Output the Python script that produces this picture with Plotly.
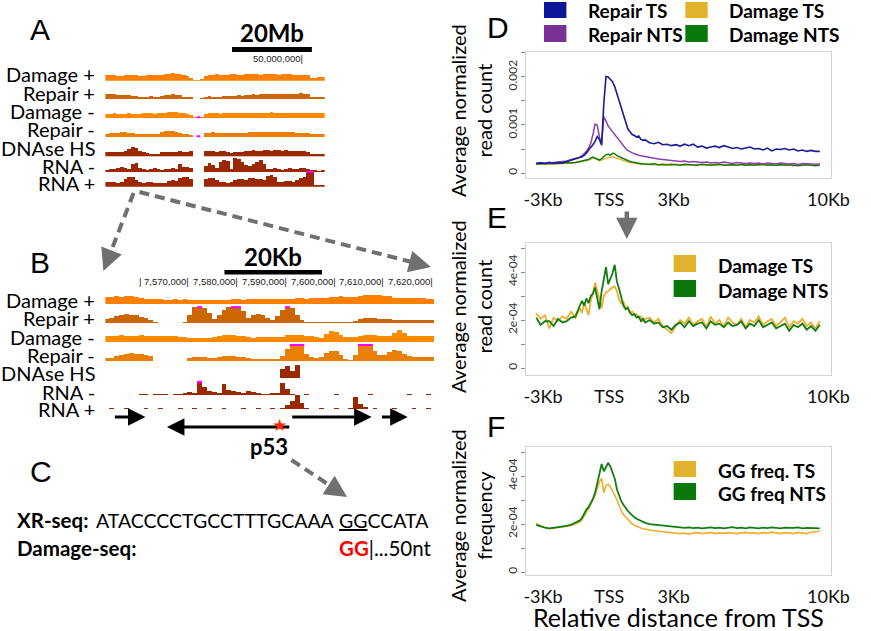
import numpy as np
import plotly.graph_objects as go

W, H = 871, 631


def px(x):
    return x / W


def py(y):
    return 1 - y / H


# ---------------------------------------------------------------- data
# Panels D-F : metagene profiles around TSS (values in units of 1e-4)
dist_kb = np.round(np.concatenate([np.arange(-3.0, -0.99, 0.2),
                                   np.arange(-0.9, 2.01, 0.1),
                                   np.arange(2.2, 10.01, 0.2)]), 2)
SCALE = 1e-4

repair_ts_D = [2.0, 2.1, 2.0, 2.2, 2.0, 2.2, 2.1, 2.4, 2.6, 2.9, 3.2,
               3.4, 3.7, 4.1, 4.8, 5.3, 5.9, 6.6, 7.6, 7.0, 5.8, 14.5, 20.1, 20.0, 19.6, 19.0,
               18.0, 16.5, 15.0, 13.3, 11.8, 10.2, 9.2, 8.6, 8.0, 7.8, 7.5, 7.7, 7.0, 6.8, 6.9,
               6.3, 6.1, 6.4, 5.9, 6.0, 5.7, 5.9, 5.6, 6.0, 5.7, 6.0, 5.4, 5.6, 5.2, 5.4, 5.6,
               5.3, 5.7, 5.4, 5.1, 5.3, 5.0, 5.2, 5.4, 5.0, 5.1, 4.8, 5.2, 4.6, 5.0, 4.9, 5.1,
               4.8, 5.0, 4.6, 4.8, 4.5, 4.7, 4.5, 4.5]
repair_nts_D = [2.0, 2.1, 2.0, 2.1, 2.1, 2.2, 2.3, 2.5, 2.8, 3.0, 3.3,
                3.6, 4.0, 4.5, 5.2, 6.2, 8.0, 10.2, 10.0, 7.5, 6.2, 11.7, 10.8, 9.8, 9.2, 8.6,
                8.0, 7.6, 7.0, 6.4, 5.8, 5.1, 4.7, 4.4, 4.2, 4.0, 3.8, 3.7, 3.6, 3.5, 3.4,
                3.2, 3.0, 2.9, 2.8, 2.7, 2.6, 2.5, 2.4, 2.5, 2.3, 2.4, 2.3, 2.2, 2.3, 2.1, 2.2,
                2.1, 2.3, 2.1, 2.0, 2.2, 2.1, 2.0, 2.1, 2.0, 2.1, 1.9, 2.1, 2.0, 1.9, 2.1, 2.0,
                1.9, 2.0, 1.8, 2.0, 1.9, 1.9, 1.8, 1.9]
damage_ts_D = [1.9, 2.0, 1.9, 1.9, 2.0, 1.9, 2.0, 2.1, 2.0, 2.2, 2.3,
               2.4, 2.6, 2.5, 2.7, 2.9, 3.1, 3.0, 2.8, 2.6, 2.7, 2.9, 3.0, 3.2, 3.3, 3.4,
               3.2, 3.1, 3.0, 2.8, 2.6, 2.4, 2.3, 2.2, 2.1, 2.0, 2.0, 1.9, 1.8, 1.9, 1.8,
               1.7, 1.8, 1.6, 1.7, 1.7, 1.6, 1.8, 1.7, 1.6, 1.7, 1.6, 1.8, 1.7, 1.6, 1.7, 1.6,
               1.7, 1.8, 1.6, 1.7, 1.6, 1.7, 1.7, 1.6, 1.8, 1.6, 1.7, 1.6, 1.7, 1.6, 1.8, 1.7,
               1.6, 1.5, 1.7, 1.6, 1.7, 1.6, 1.6, 1.7]
damage_nts_D = [1.9, 1.9, 2.0, 1.9, 2.0, 2.0, 2.1, 2.1, 2.2, 2.2, 2.4,
                2.5, 2.6, 2.7, 2.8, 3.1, 3.3, 3.1, 2.9, 2.7, 3.0, 3.4, 3.8, 3.9, 3.7, 4.1,
                4.0, 3.6, 3.4, 3.1, 2.9, 2.7, 2.5, 2.4, 2.3, 2.2, 2.1, 2.1, 2.0, 1.9, 1.9,
                1.8, 1.9, 1.7, 1.8, 1.7, 1.8, 1.7, 1.6, 1.8, 1.7, 1.7, 1.6, 1.8, 1.7, 1.6, 1.7,
                1.8, 1.6, 1.7, 1.7, 1.6, 1.8, 1.6, 1.7, 1.6, 1.7, 1.8, 1.6, 1.7, 1.6, 1.7, 1.6,
                1.7, 1.6, 1.5, 1.6, 1.7, 1.6, 1.5, 1.6]

damage_ts_E = [2.28, 2.05, 2.2, 1.65, 2.1, 1.95, 2.15, 2.05, 2.35, 2.1, 2.5,
               2.3, 2.75, 2.5, 2.2, 2.8, 3.1, 3.55, 3.25, 2.9, 2.5, 3.0, 3.15, 3.2, 3.3, 3.35,
               3.4, 3.2, 2.85, 2.7, 2.75, 2.5, 2.55, 2.3, 2.35, 2.2, 2.25, 2.1, 2.15, 1.95, 2.05,
               2.1, 1.9, 2.05, 1.75, 1.6, 1.45, 1.75, 2.0, 1.85, 2.1, 1.8, 1.95, 2.05, 1.7, 2.15,
               1.85, 2.0, 1.75, 2.1, 1.9, 1.8, 2.05, 1.7, 2.0, 1.9, 2.15, 1.8, 1.95, 2.05, 1.75,
               1.9, 2.1, 1.7, 1.95, 1.85, 2.05, 1.75, 1.9, 1.65, 1.95]
damage_nts_E = [2.1, 1.8, 1.95, 1.95, 1.75, 2.05, 1.9, 1.95, 2.1, 2.15, 2.6,
                2.8, 2.6, 2.9, 2.7, 3.0, 3.1, 3.35, 2.9, 2.45, 3.2, 3.8, 4.2, 3.5, 3.75, 3.95,
                4.3, 3.6, 3.3, 3.0, 2.6, 2.45, 2.5, 2.3, 2.2, 2.25, 2.1, 2.15, 1.95, 2.05, 1.9,
                2.0, 1.85, 1.9, 1.7, 1.75, 1.6, 1.8, 1.9, 1.7, 1.95, 1.75, 1.85, 1.9, 1.65, 1.95,
                1.8, 1.85, 1.7, 1.9, 1.75, 1.8, 1.95, 1.65, 1.85, 1.75, 2.0, 1.7, 1.8, 1.9, 1.65,
                1.75, 1.85, 1.55, 1.8, 1.7, 1.85, 1.6, 1.75, 1.55, 1.8]

gg_ts_F = [2.03, 1.92, 1.85, 1.8, 1.82, 1.85, 1.87, 1.9, 1.94, 2.0, 2.08,
           2.18, 2.35, 2.5, 2.62, 2.78, 3.0, 3.2, 3.5, 3.75, 3.9, 3.3, 3.6, 3.65, 3.55, 3.4,
           3.2, 3.0, 2.75, 2.55, 2.4, 2.3, 2.2, 2.1, 2.0, 1.95, 1.9, 1.86, 1.83, 1.8, 1.78,
           1.75, 1.72, 1.7, 1.68, 1.66, 1.65, 1.63, 1.6, 1.62, 1.58, 1.62, 1.64, 1.6, 1.62, 1.65,
           1.6, 1.63, 1.61, 1.64, 1.62, 1.6, 1.63, 1.65, 1.61, 1.63, 1.6, 1.64, 1.62, 1.66, 1.63,
           1.6, 1.64, 1.62, 1.6, 1.65, 1.63, 1.6, 1.66, 1.68, 1.7]
gg_nts_F = [1.96, 1.9, 1.85, 1.82, 1.84, 1.86, 1.88, 1.92, 1.97, 2.05, 2.15,
            2.25, 2.45, 2.6, 2.7, 2.85, 3.05, 3.3, 3.7, 4.15, 4.5, 4.2, 4.4, 4.55, 4.4, 4.15,
            3.9, 3.45, 3.2, 2.95, 2.8, 2.65, 2.55, 2.45, 2.35, 2.28, 2.22, 2.18, 2.12, 2.1, 2.05,
            2.0, 1.98, 1.95, 1.93, 1.9, 1.88, 1.86, 1.85, 1.84, 1.86, 1.83, 1.85, 1.82, 1.84, 1.86,
            1.83, 1.85, 1.82, 1.84, 1.87, 1.83, 1.85, 1.82, 1.86, 1.84, 1.82, 1.85, 1.83, 1.86, 1.84,
            1.82, 1.85, 1.83, 1.84, 1.86, 1.82, 1.84, 1.83, 1.85, 1.82]

x_tick_pos = [-2.69, 0.35, 3.30, 10.40]
x_tick_text = ["-3Kb", "TSS", "3Kb", "10Kb"]

# Panel A : chromosome-wide tracks (bin signal, 60 bins)
A_BIN_MB = 0.915
damage_plus_A = [5.3, 5.5, 5.3, 5.0, 5.2, 5.5, 5.7, 5.5, 5.3, 5.0, 5.2, 5.5, 5.3, 5.6, 5.8, 6.0,
                 6.5, 7.0, 7.3, 7.0, 6.8, 6.2, 5.0, 3.0, 1.0, 0.7, 1.5,
                 5.0, 5.5, 6.0, 6.3, 6.0, 5.8, 6.0,
                 6.3, 6.5, 6.2, 6.0, 6.5, 6.8, 6.5, 6.3, 6.0, 6.5, 7.0, 6.8, 6.5, 6.2, 6.5, 6.8, 6.3, 6.0,
                 6.2, 6.0, 5.8, 5.5, 2.5, 2.3, 3.8, 4.2]
repair_plus_A = [5.3, 5.0, 5.2, 4.8, 4.5, 4.2, 4.0,
                 3.5, 3.0, 2.8, 2.5, 2.7, 3.0, 2.8, 2.5, 3.0,
                 4.0, 4.8, 5.3, 4.8, 4.0, 2.8, 2.5, 2.0, 0.8, 0.3, 1.0,
                 2.5, 3.0, 2.8, 2.5, 2.7, 3.0, 3.3, 3.5, 3.8, 4.0, 3.7, 4.2, 4.5,
                 5.0, 4.8, 5.2, 5.0, 5.3, 5.5, 5.2, 5.0, 5.3, 5.5, 5.2, 5.0,
                 5.5, 6.0, 5.8, 5.5, 2.5, 2.2, 2.0, 2.3]
damage_minus_A = [4.5, 4.8, 5.0, 4.7, 4.5, 4.8, 5.0, 4.8, 4.5, 4.7, 5.0, 5.2, 5.0, 4.8, 5.0, 5.2,
                  5.8, 6.5, 6.8, 6.3, 5.8, 5.2, 4.5, 3.0, 1.0, 0.5, 1.2,
                  4.5, 5.0, 5.2, 5.0, 4.8, 5.0, 5.3, 5.5, 5.2, 5.0, 5.3, 5.8, 5.5, 5.2, 5.0, 5.3,
                  5.5, 5.8, 6.0, 5.7, 5.3, 5.5, 5.8, 5.5, 5.2, 5.0, 5.3, 5.5, 5.2, 5.0, 5.3, 5.0, 5.2]
repair_minus_A = [3.5, 4.0, 4.2, 4.5, 5.0, 5.3, 4.8, 4.0,
                  3.2, 3.0, 3.3, 3.0, 3.2, 3.5, 3.8,
                  5.0, 6.0, 6.8, 6.5, 5.5, 4.5, 3.5, 3.0, 2.2, 0.8, 0.5, 0.8,
                  4.0, 4.5, 5.0, 4.8, 4.5, 4.3, 4.5, 4.2, 4.0, 4.3, 4.5, 4.8, 5.0,
                  5.5, 5.8, 5.5, 5.3, 5.6, 5.8, 5.5, 5.2, 5.5, 5.3, 5.0, 5.2,
                  4.5, 4.3, 4.0, 4.2, 3.5, 3.2, 3.0, 3.3]
dnase_A = [5.0, 5.5, 5.3, 5.8, 5.5, 6.0, 8.5, 10.5, 9.0,
           6.0, 5.0, 4.5, 3.5, 3.0, 3.5,
           5.0, 5.5, 5.2, 5.8, 5.5, 6.0, 5.5, 5.8, 6.5, 0, 0, 0,
           6.2, 6.5, 6.0, 5.8, 6.3, 6.0, 5.5, 4.5, 5.0, 5.5, 5.8, 6.0, 6.3,
           7.0, 6.5, 6.8, 7.2, 7.0, 6.5, 7.0, 7.3, 6.8, 7.0, 6.5, 6.8,
           6.5, 6.0, 6.3, 5.8, 3.5, 3.2, 3.0, 3.3]
rna_minus_A = [2.5, 3.0, 3.5, 4.5, 5.0, 4.0, 3.5, 8.5, 9.0, 4.0,
               3.0, 2.5, 3.5, 4.0, 3.0, 2.5, 3.5, 3.0, 4.0, 3.5,
               8.5, 5.0, 5.5, 4.0, 0, 0, 0,
               6.5, 9.0, 7.5, 4.0, 10.0, 12.5, 11.0, 3.0, 14.0, 13.0, 10.0,
               7.0, 6.5, 8.0, 10.5, 12.0, 8.0,
               3.5, 3.0, 4.0, 3.5, 2.5, 3.0, 4.0, 3.5, 3.0, 4.5, 4.0, 3.5,
               2.0, 2.5, 1.5, 2.0]
rna_plus_A = [4.5, 5.0, 4.5, 4.0, 5.0, 8.0, 10.0, 9.5, 7.0,
              4.5, 4.0, 5.0, 4.5, 3.5, 4.0, 3.5, 4.0, 5.5, 7.0,
              6.0, 8.5, 9.5, 10.0, 8.0, 0, 0, 0,
              8.0, 8.5, 9.0, 7.0, 5.0, 4.5, 3.5, 5.0,
              6.5, 7.5, 8.0, 7.0, 8.5, 9.0, 7.5, 8.0, 6.5, 11.0, 12.0, 10.0,
              5.0, 4.5, 5.5, 6.0, 5.0, 7.0, 9.0, 10.0, 16.0, 16.0, 2.0, 1.5, 2.0]

# Panel B : TP53 locus tracks (1 kb bins, first bin centred at 7,553 kb)
B_FIRST_KB = 7553
damage_plus_B = [7.5, 7.7, 8.0, 7.5, 7.8, 8.0, 7.3,
                 6.0, 5.5, 5.0, 4.8, 5.0, 4.5, 4.7, 5.0, 4.5, 4.8,
                 4.5, 4.3, 4.0, 4.2, 4.5, 4.0, 4.3, 4.5, 4.2,
                 4.8, 5.0, 4.7, 5.0, 5.2, 4.8, 5.0, 5.3, 5.0, 4.8, 5.0, 5.2, 5.5,
                 5.8, 6.0, 5.7, 6.2, 6.0, 6.3, 6.5, 7.0, 7.5, 7.8, 7.5, 7.2, 7.0,
                 8.5, 9.0, 9.3, 9.0, 8.8, 8.5, 8.0, 6.5, 6.2, 6.0, 5.8, 6.0, 6.2, 5.8, 5.5, 5.7]
repair_plus_B = [4.5, 5.0, 7.5, 8.5, 9.0, 8.7, 8.0, 6.5, 5.0, 3.5,
                 0.8, 0.5, 0.6, 0.5, 0.7, 0.5, 1.0,
                 8.0, 16.0, 17.0, 15.0, 10.0, 4.5, 8.0, 13.0, 16.0, 17.0, 17.0, 12.0,
                 5.5, 8.0, 9.5, 8.5, 5.5, 3.5, 7.0,
                 13.0, 17.0, 15.0, 8.0, 3.0, 1.5,
                 1.0, 1.2, 0.8, 1.0, 1.5, 1.2, 1.0, 1.3, 1.5, 2.5,
                 4.5, 5.0, 4.8, 5.0, 4.7, 4.5, 4.0, 3.5, 3.3, 3.5, 3.2, 3.0, 3.3, 3.5, 3.2, 3.0]
damage_minus_B = [6.0, 6.3, 6.5, 6.8, 6.2, 6.0, 6.5, 7.0, 6.5, 6.0, 5.8, 6.2, 6.5, 6.3, 6.0, 5.5, 5.0,
                  4.5, 4.0, 4.2, 4.0, 4.5, 5.0, 6.5, 7.0, 7.5, 7.0, 6.5, 6.0,
                  5.0, 4.5, 4.8, 5.0, 5.5, 5.0, 4.8, 5.5,
                  7.0, 7.5, 7.2, 7.0, 6.5, 6.0, 5.0, 4.5,
                  8.5, 11.0, 10.5, 7.0, 5.5, 5.0, 5.5,
                  6.5, 7.0, 7.5, 7.0, 6.5, 6.0, 6.5, 9.5, 12.0, 9.0,
                  6.5, 6.0, 6.3, 6.0, 5.8, 6.0]
repair_minus_B = [3.0, 3.5, 5.5, 6.5, 7.5, 8.0, 7.5, 7.0, 6.5, 5.0,
                  0.3, 0.3, 0.2, 0.3, 0.4, 0.3, 0.5,
                  3.5, 4.0, 4.5, 4.0, 3.5, 3.0, 4.5, 5.0, 5.5, 5.0, 4.5, 4.0,
                  3.0, 2.5, 2.3, 2.5, 2.0, 1.8, 2.5,
                  5.0, 12.0, 17.0, 17.0, 17.0, 7.0, 4.0, 3.5, 4.5,
                  8.0, 10.5, 10.0, 6.0, 2.0, 1.5, 6.0,
                  17.0, 17.0, 17.0, 10.0, 6.0, 6.0, 9.0, 11.0, 10.0, 7.0,
                  5.0, 4.5, 4.0, 4.5, 4.2, 4.0]
dnase_B = [0, 1, 1, 1, 0, 1, 1, 1, 1, 0,
           1, 1, 1, 1, 1, 0, 1, 1, 1, 1,
           1, 0, 1, 1, 1, 1, 0, 1, 1, 1,
           1, 1, 1, 0, 1, 1.5, 12, 15, 10, 16,
           1, 1, 1, 0, 1, 1, 1, 1, 0, 1,
           1, 1, 1, 1, 0, 1, 1, 1, 1, 0,
           1, 1, 1, 1, 1, 0, 1, 1]
rna_minus_B = [0, 0, 0, 0, 0, 0, 0,
               0.8, 0.8, 0, 0.8, 0.8, 0.8, 0, 0.8, 0.8,
               2.0, 3.0, 2.5, 13.5, 8.0,
               4.0, 3.0, 2.5, 11.5, 5.0, 4.5, 3.0, 2.5, 4.0, 3.0, 2.0, 1.5, 1.5, 2.0, 2.5, 12.5, 6.0, 0.8,
               0, 0, 0.8, 0, 0, 0, 0, 0, 0.8, 0, 0, 0, 0, 0, 0, 0.8, 0, 0, 0, 0, 0, 0, 0, 0.8, 0, 0, 0, 0.8, 0]
rna_plus_B = [0, 0.8, 0, 0, 0.8, 0, 0, 0, 0.8, 0, 0, 0.8, 0, 0, 0, 0.8, 0, 0, 0.8, 0,
              0, 0.8, 0, 0, 0.8, 0, 0, 0, 0.8, 0, 0, 0.8, 0, 0, 0.8, 0, 1.0,
              4.0, 8.0, 14.0, 6.0, 1.0,
              0, 0, 0.8, 0, 0, 0.8, 0, 0, 0.8,
              12.5, 5.0, 2.0,
              0, 0.8, 0, 0, 0, 0.8, 0, 0, 0, 0.8, 0, 0, 0.8, 0]

# clipped-signal marks (track, bins, level)
magenta_A = [("Damage -", [25], 0.8), ("Repair -", [25], 0.8), ("RNA +", [55, 56], 15.3)]
magenta_B = [("Repair +", [19], 16.2), ("Repair +", [26, 27], 16.2), ("Repair +", [37], 16.2),
             ("Repair -", [38, 39, 40], 16.2), ("Repair -", [52, 53, 54], 16.2), ("RNA -", [19], 13.0)]

# genes (start kb, end kb, strand)
genes_B = [(7554.3, 7560.9, "+"), (7565.3, 7590.7, "-"), (7590.7, 7607.3, "+"), (7609.1, 7614.7, "+")]
p53_star_kb = 7588.3
coord_ticks_kb = [7560, 7570, 7580, 7590, 7600, 7610, 7620]

# ---------------------------------------------------------------- figure
fig = go.Figure()
layout_axes = {}
annotations = []
shapes = []

FONT = "Lato, Carlito, 'Open Sans', sans-serif"
LETTER_FONT = "'Liberation Sans', Arial, sans-serif"


def add_text(x, y, text, size, bold=False, xanchor="center", family=FONT, color="#000", angle=0):
    annotations.append(dict(x=px(x), y=py(y), xref="paper", yref="paper", showarrow=False,
                            text=f"<b>{text}</b>" if bold else text, xanchor=xanchor, yanchor="middle",
                            font=dict(size=size, family=family, color=color), textangle=angle))


# ---- profile panels
def prof_axes(sfx, top, bottom, yr, tv, tt):
    layout_axes[f"xaxis{sfx}"] = dict(domain=[px(537), px(849)], range=[-3.447, 10.494], anchor=f"y{sfx}",
                                      showgrid=False, zeroline=False, showline=True, mirror=True,
                                      linecolor="#d4d4d4", linewidth=1, ticks="", tickmode="array",
                                      tickvals=x_tick_pos, ticktext=x_tick_text,
                                      tickfont=dict(size=18, color="#111", family=FONT), ticklabelstandoff=5)
    layout_axes[f"yaxis{sfx}"] = dict(domain=[py(bottom), py(top)], range=yr, anchor=f"x{sfx}",
                                      showgrid=False, zeroline=False, showline=True, mirror=True,
                                      linecolor="#d4d4d4", linewidth=1, ticks="outside", ticklen=4,
                                      tickcolor="#8a8a8a", tickmode="array", tickvals=tv, ticktext=tt,
                                      tickangle=-90, tickfont=dict(size=12, color="#333", family=FONT))


prof_axes("", 52, 178, [-1.04e-4, 25.2e-4], [0, 5e-4, 10e-4, 15e-4, 20e-4, 25e-4],
          ["0", "", "0.001", "", "0.002", ""])
prof_axes("2", 243, 375, [-0.29e-4, 5.21e-4], [0, 1e-4, 2e-4, 3e-4, 4e-4, 5e-4],
          ["0", "", "2e-04", "", "4e-04", ""])
prof_axes("3", 447, 575, [-0.125e-4, 5.21e-4], [0, 1e-4, 2e-4, 3e-4, 4e-4, 5e-4],
          ["0", "", "2e-04", "", "4e-04", ""])

BLUE, PURPLE, YELLOW, GREEN = "#1b1b98", "#8c3fae", "#efae2f", "#137d13"
BLUE_SQ, PURPLE_SQ, YELLOW_SQ, GREEN_SQ = "#0b1796", "#7a3196", "#e3b22d", "#0a780a"


def prof_line(vals, color, xa, ya, w):
    fig.add_trace(go.Scatter(x=dist_kb, y=np.array(vals) * SCALE, mode="lines",
                             line=dict(color=color, width=w), xaxis=xa, yaxis=ya,
                             showlegend=False, hoverinfo="skip"))


prof_line(damage_ts_D, YELLOW, "x", "y", 1.5)
prof_line(damage_nts_D, GREEN, "x", "y", 1.5)
prof_line(repair_nts_D, PURPLE, "x", "y", 1.5)
prof_line(repair_ts_D, BLUE, "x", "y", 1.6)
prof_line(damage_ts_E, YELLOW, "x2", "y2", 1.8)
prof_line(damage_nts_E, GREEN, "x2", "y2", 1.8)
prof_line(gg_ts_F, YELLOW, "x3", "y3", 1.6)
prof_line(gg_nts_F, GREEN, "x3", "y3", 1.8)


def legend_item(x0, y0, y1, color, label, tx, ty):
    shapes.append(dict(type="rect", xref="paper", yref="paper", x0=px(x0), x1=px(x0 + 23),
                       y0=py(y1), y1=py(y0), fillcolor=color, line=dict(width=0)))
    add_text(tx, ty, label, 19, bold=True, xanchor="left")


legend_item(555, 2, 18, BLUE_SQ, "Repair TS", 598, 11)
legend_item(555, 25, 42, PURPLE_SQ, "Repair NTS", 598, 34)
legend_item(700, 2, 18, YELLOW_SQ, "Damage TS", 743, 11)
legend_item(700, 25, 42, GREEN_SQ, "Damage NTS", 743, 34)
legend_item(688, 255, 272, YELLOW_SQ, "Damage TS", 731, 265)
legend_item(688, 280, 297, GREEN_SQ, "Damage NTS", 731, 290)
legend_item(688, 461, 477, YELLOW_SQ, "GG freq. TS", 731, 470)
legend_item(688, 483, 500, GREEN_SQ, "GG freq NTS", 731, 493)

add_text(480, 110, "Average normalized<br>read count", 20, angle=-90)
add_text(480, 306, "Average normalized<br>read count", 20, angle=-90)
add_text(480, 515, "Average normalized<br>frequency", 20, angle=-90)
add_text(693, 617, "Relative distance from TSS", 25)

# ---- genome-browser tracks
A_tracks = [("Damage +", damage_plus_A, "#ff8000", 80.7, 74),
            ("Repair +", repair_plus_A, "#cc6600", 99.3, 93),
            ("Damage -", damage_minus_A, "#ff8a00", 118.3, 111),
            ("Repair -", repair_minus_A, "#ea7f06", 137.3, 129),
            ("DNAse HS", dnase_A, "#9a2800", 157.3, 148),
            ("RNA -", rna_minus_A, "#9a2800", 172.3, 166),
            ("RNA +", rna_plus_A, "#9a2800", 186.7, 183)]
B_tracks = [("Damage +", damage_plus_B, "#ff8000", 304.3, 300),
            ("Repair +", repair_plus_B, "#cc6600", 323.3, 318),
            ("Damage -", damage_minus_B, "#ff8a00", 342.3, 337),
            ("Repair -", repair_minus_B, "#ea7f06", 361.0, 355),
            ("DNAse HS", dnase_B, "#9a2800", 380.7, 373),
            ("RNA -", rna_minus_B, "#9a2800", 395.0, 392),
            ("RNA +", rna_plus_B, "#9a2800", 409.3, 409)]

axis_no = 4
track_axes = {}


def add_tracks(tracks, centers_fn, binw, xrange_, xdom, fs, key, magenta):
    global axis_no
    for name, vals, color, base, label_y in tracks:
        n = axis_no
        axis_no += 1
        track_axes[(key, name)] = n
        x = centers_fn(len(vals))
        layout_axes[f"xaxis{n}"] = dict(domain=xdom, range=xrange_, visible=False, anchor=f"y{n}", fixedrange=True)
        layout_axes[f"yaxis{n}"] = dict(domain=[py(base), py(base - fs)], range=[0, fs], visible=False,
                                        anchor=f"x{n}", fixedrange=True)
        fig.add_trace(go.Bar(x=x, y=vals, width=binw, marker=dict(color=color, line=dict(width=0)),
                             xaxis=f"x{n}", yaxis=f"y{n}", showlegend=False, hoverinfo="skip"))
        add_text(96, label_y, name, 20, xanchor="right")
    for name, bins, level in magenta:
        n = track_axes[(key, name)]
        c = centers_fn(max(bins) + 1)
        fig.add_trace(go.Scatter(x=[c[bins[0]] - binw / 2, c[bins[-1]] + binw / 2], y=[level, level],
                                 mode="lines", line=dict(color="#ff00ff", width=2.5),
                                 xaxis=f"x{n}", yaxis=f"y{n}", showlegend=False, hoverinfo="skip"))


add_tracks(A_tracks, lambda n: (np.arange(n) + 0.5) * A_BIN_MB, A_BIN_MB, [0, 60 * A_BIN_MB],
           [px(105), px(330)], 16, "A", magenta_A)
add_tracks(B_tracks, lambda n: B_FIRST_KB + np.arange(n), 1.0, [7552.66, 7620.1],
           [px(105), px(442.2)], 17, "B", magenta_B)

xa_A = f"x{track_axes[('A', 'Damage +')]}"
xa_B = f"x{track_axes[('B', 'Damage +')]}"

# scale bars and coordinates
shapes.append(dict(type="rect", xref=xa_A, yref="paper", x0=31.7, x1=51.7, y0=py(52), y1=py(47),
                   fillcolor="black", line=dict(width=0)))
add_text(276, 32, "20Mb", 24, bold=True)
annotations.append(dict(x=50, y=py(58), xref=xa_A, yref="paper", text="50,000,000|", showarrow=False,
                        xanchor="right", yanchor="middle", font=dict(size=9.5, family=LETTER_FONT, color="#222")))
shapes.append(dict(type="rect", xref=xa_B, yref="paper", x0=7577.1, x1=7597.1, y0=py(274.5), y1=py(270),
                   fillcolor="black", line=dict(width=0)))
add_text(277, 256, "20Kb", 24, bold=True)
for kb in coord_ticks_kb:
    label = "|" if kb == coord_ticks_kb[0] else f"{kb * 1000:,}|"
    annotations.append(dict(x=kb, y=py(282), xref=xa_B, yref="paper", text=label, showarrow=False,
                            xanchor="right", yanchor="middle", xshift=1.5,
                            font=dict(size=9.5, family=LETTER_FONT, color="#222")))

# gene arrows
for start, end, strand in genes_B:
    yrow = 427 if strand == "-" else 417
    head, tail = (start, end) if strand == "-" else (end, start)
    annotations.append(dict(x=head, y=py(yrow), xref=xa_B, yref="paper", ax=tail, ay=0,
                            axref=xa_B, ayref="pixel", showarrow=True, arrowhead=2, arrowsize=1.25,
                            arrowwidth=2.8, arrowcolor="black", text=""))
annotations.append(dict(x=p53_star_kb, y=py(425), xref=xa_B, yref="paper", text="★", showarrow=False,
                        font=dict(size=17, color="#ff2a00", family="DejaVu Sans"), xanchor="center",
                        yanchor="middle"))
add_text(273, 446, "p53", 22, bold=True)

# dashed grey arrows


def dashed_arrow(x0, y0, x1, y1):
    dx, dy = x1 - x0, y1 - y0
    L = (dx * dx + dy * dy) ** 0.5
    ux, uy = dx / L, dy / L
    shapes.append(dict(type="line", xref="paper", yref="paper", x0=px(x0), y0=py(y0),
                       x1=px(x1 - ux * 10), y1=py(y1 - uy * 10),
                       line=dict(color="#707070", width=4, dash="10px,6px")))
    annotations.append(dict(x=px(x1), y=py(y1), xref="paper", yref="paper", ax=-ux * 14, ay=-uy * 14,
                            axref="pixel", ayref="pixel", showarrow=True, arrowhead=2, arrowsize=1.1,
                            arrowwidth=4, arrowcolor="#707070", text=""))


dashed_arrow(134, 193, 103, 271)
dashed_arrow(140, 192, 439, 267)
dashed_arrow(296, 460, 353, 497)
annotations.append(dict(x=px(640), y=py(239), xref="paper", yref="paper", ax=0, ay=-29,
                        axref="pixel", ayref="pixel", showarrow=True, arrowhead=2, arrowsize=0.95,
                        arrowwidth=4.5, arrowcolor="#707070", text=""))

# panel C text
add_text(12, 520, "XR-seq:", 20.5, bold=True, xanchor="left")
add_text(343, 520, "ATACCCCTGCCTTTGCAAA", 19.5, xanchor="right")
add_text(343, 520, "<u>GG</u>CCATA", 19.5, xanchor="left")
add_text(12, 548, "Damage-seq:", 20.5, bold=True, xanchor="left")
add_text(343, 548, "<span style='color:#ff0000'><b>GG</b></span>|...50nt", 20.5, xanchor="left")

# panel letters
for letter, x, y in [("A", 38, 29), ("B", 38, 262), ("C", 39, 472), ("D", 508, 28), ("E", 507, 218),
                     ("F", 506, 426)]:
    add_text(x, y, letter, 30, family=LETTER_FONT)

fig.update_layout(width=W, height=H, margin=dict(l=0, r=0, t=0, b=0), paper_bgcolor="white",
                  plot_bgcolor="white", showlegend=False, bargap=0, font=dict(family=FONT, color="#000"),
                  annotations=annotations, shapes=shapes, **layout_axes)
fig.write_html("out.html", config={"displayModeBar": False, "staticPlot": True},
               post_script="document.body.style.margin='0px';")
